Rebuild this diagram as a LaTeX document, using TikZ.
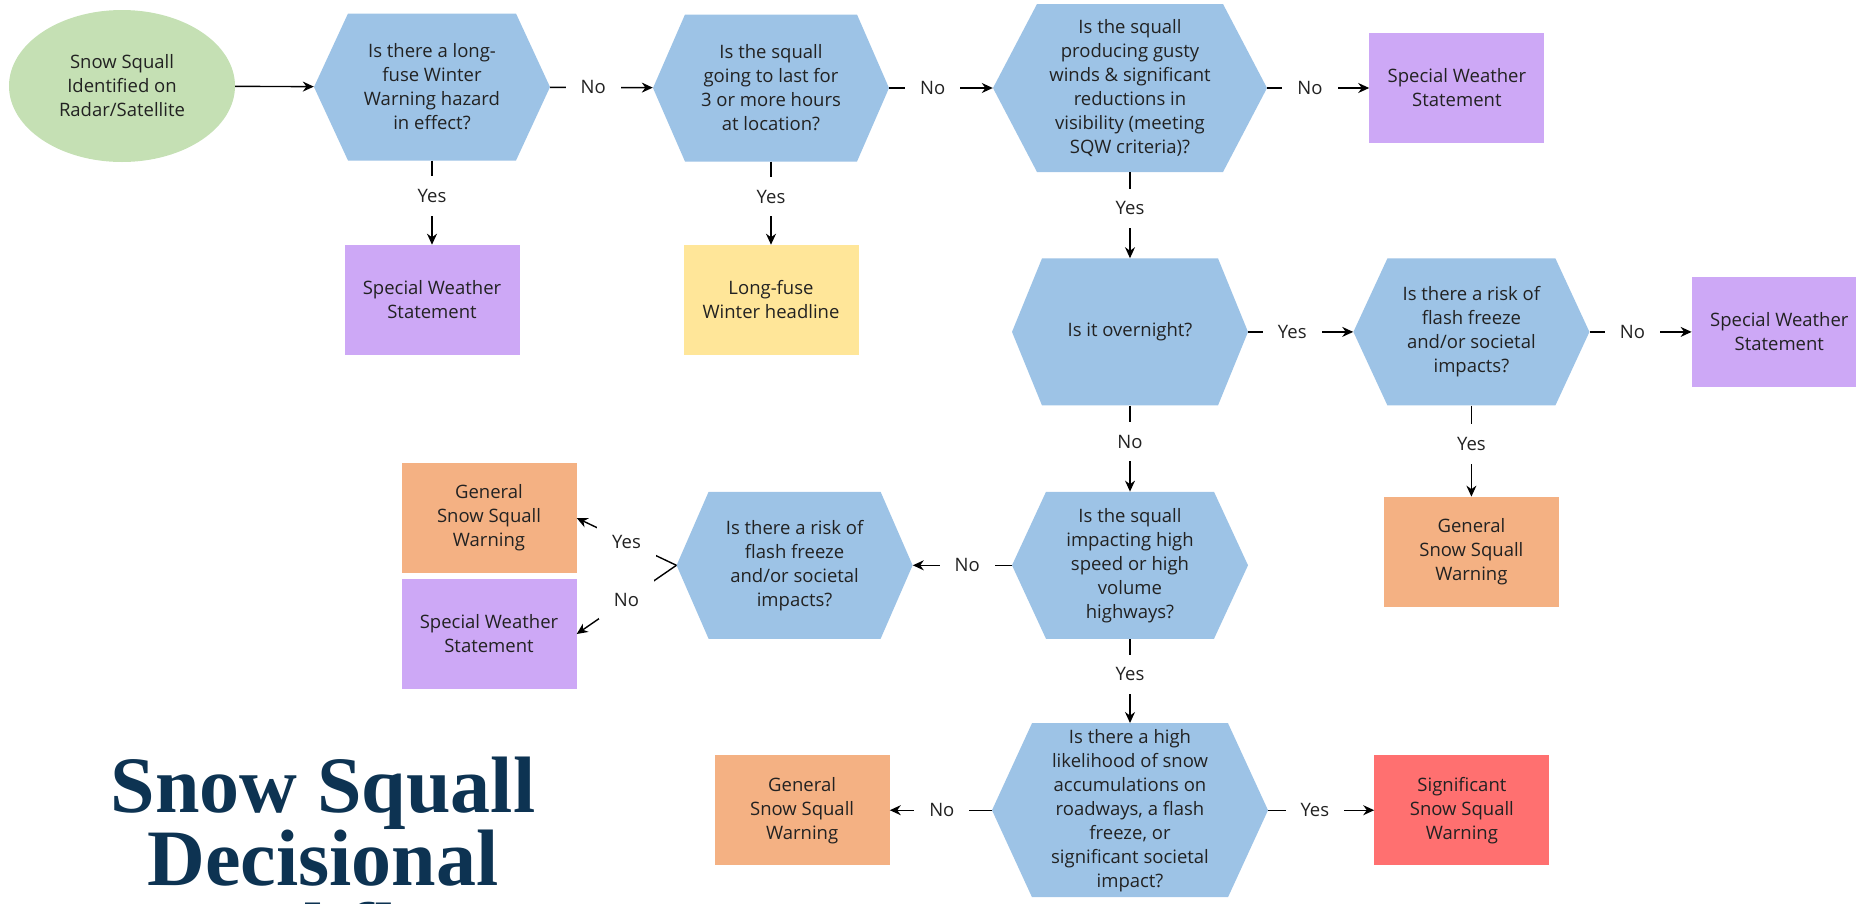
\documentclass[tikz,border=0pt]{standalone}
\usepackage{fontspec}
\setmainfont{Open Sans}
\newfontfamily\titlefont{Liberation Serif}
\usetikzlibrary{arrows.meta,positioning,shapes.geometric}
\definecolor{hexblue}{HTML}{9DC3E6}
\definecolor{startgreen}{HTML}{C5E0B4}
\definecolor{swspurple}{HTML}{CDA8F6}
\definecolor{fuseyellow}{HTML}{FFE699}
\definecolor{gssworange}{HTML}{F4B183}
\definecolor{sigred}{HTML}{FF7070}
\definecolor{titlenavy}{HTML}{0D3352}
\definecolor{ink}{HTML}{222222}

\begin{document}
\begin{tikzpicture}[x=1pt,y=-1pt,>={Stealth[length=11pt,width=10pt]},font=\fontsize{18.5}{24}\selectfont,text=ink,
hexinset/.store in=\hexinset,hexinset=34pt,
decision/.style={fill=white,inner sep=0pt,minimum width=236pt,minimum height=147pt,align=center,
  path picture={\fill[hexblue] (path picture bounding box.west)--([xshift=\hexinset]path picture bounding box.north west)--([xshift=-\hexinset]path picture bounding box.north east)--(path picture bounding box.east)--([xshift=-\hexinset]path picture bounding box.south east)--([xshift=\hexinset]path picture bounding box.south west)--cycle;}},
outcome/.style={inner sep=0pt,minimum width=175pt,minimum height=110pt,align=center},
flow/.style={->,line width=1.4pt},
lbl/.style={fill=white,pos=.42,inner xsep=15pt,inner ysep=13pt}]
\useasboundingbox (0,0) rectangle (1856,903);
\node[font=\titlefont\bfseries\fontsize{80}{73}\selectfont,text=titlenavy,align=center,anchor=base] (title) at (323,958) {Snow Squall\\Decisional\\Workflow};
\node[ellipse,fill=startgreen,minimum width=226pt,minimum height=152pt,inner sep=0pt,align=center] (start) at (122,86) {Snow Squall\\Identified on\\Radar/Satellite};
\node[decision] (q1) at (432,87) {Is there a long-\\fuse Winter\\Warning hazard\\in effect?};
\node[decision,hexinset=32pt] (q2) at (771,88) {Is the squall\\going to last for\\3 or more hours\\at location?};
\node[decision,hexinset=44pt,minimum width=274pt,minimum height=168pt] (q3) at (1130,88) {Is the squall\\producing gusty\\winds \& significant\\reductions in\\visibility (meeting\\SQW criteria)?};
\node[outcome,fill=swspurple,below=84pt of q1] (sws1) {Special Weather\\Statement};
\node[outcome,fill=fuseyellow,below=83pt of q2] (fuse) {Long-fuse\\Winter headline};
\node[outcome,fill=swspurple,right=102pt of q3] (sws2) {Special Weather\\Statement};
\node[decision,hexinset=30pt,below=86pt of q3] (q4) {Is it overnight?};
\node[decision,right=105pt of q4] (q5) {Is there a risk of\\flash freeze\\and/or societal\\impacts?};
\node[outcome,fill=swspurple,right=102pt of q5] (sws3) {Special Weather\\Statement};
\node[outcome,fill=gssworange,below=91pt of q5] (gssw1) {General\\Snow Squall\\Warning};
\node[decision,below=86pt of q4] (q6) {Is the squall\\impacting high\\speed or high\\volume\\highways?};
\node[decision,hexinset=32pt,left=99pt of q6] (q7) {Is there a risk of\\flash freeze\\and/or societal\\impacts?};
\node[outcome,fill=gssworange] (gssw2) at (489,518) {General\\Snow Squall\\Warning};
\node[outcome,fill=swspurple] (sws4) at (489,634) {Special Weather\\Statement};
\node[decision,hexinset=40pt,minimum width=276pt,minimum height=174pt,below=84pt of q6] (q8) {Is there a high\\likelihood of snow\\accumulations on\\roadways, a flash\\freeze, or\\significant societal\\impact?};
\node[outcome,fill=gssworange,left=102pt of q8] (gssw3) {General\\Snow Squall\\Warning};
\node[outcome,fill=sigred,right=106pt of q8] (sig) {Significant\\Snow Squall\\Warning};
% connectors
\draw[flow] (start) -- (q1);
\draw[flow] (q1) -- node[lbl]{No} (q2);
\draw[flow] (q2) -- node[lbl]{No} (q3);
\draw[flow] (q3) -- node[lbl]{No} (sws2);
\draw[flow] (q1) -- node[lbl]{Yes} (sws1);
\draw[flow] (q2) -- node[lbl]{Yes} (fuse);
\draw[flow] (q3) -- node[lbl]{Yes} (q4);
\draw[flow] (q4) -- node[lbl]{Yes} (q5);
\draw[flow] (q5) -- node[lbl]{No} (sws3);
\draw[flow] (q5) -- node[lbl]{Yes} (gssw1);
\draw[flow] (q4) -- node[lbl]{No} (q6);
\draw[flow] (q6) -- node[lbl,pos=.45]{No} (q7);
\draw[flow] (q6) -- node[lbl]{Yes} (q8);
\draw[flow] (q8) -- node[lbl,pos=.49]{No} (gssw3);
\draw[flow] (q8) -- node[lbl,pos=.44]{Yes} (sig);
\draw[flow] (q7.west) -- node[lbl,pos=.5]{Yes} (gssw2.east);
\draw[flow] (q7.west) -- node[lbl,pos=.5]{No} (sws4.east);
\end{tikzpicture}
\end{document}
